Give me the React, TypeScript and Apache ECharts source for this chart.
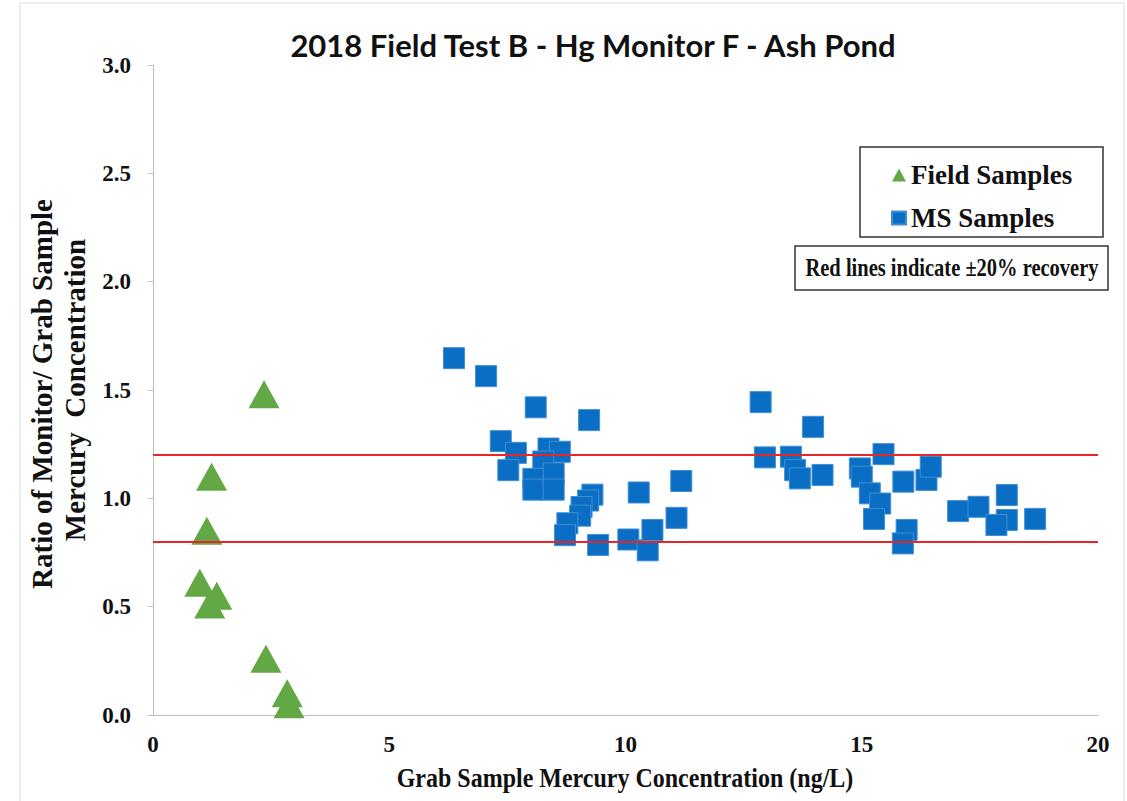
import React, { useEffect, useRef } from "react";
import * as echarts from "echarts";

const titleText = "2018 Field Test B - Hg Monitor F - Ash Pond";
const xTitle = "Grab Sample Mercury Concentration (ng/L)";
const yTitleLine1 = "Ratio of Monitor/ Grab Sample";
const yTitleLine2 = "Mercury  Concentration";
const noteText = "Red lines indicate \u00b120% recovery";

const fieldX = [2.35, 1.24, 1.14, 0.99, 1.35, 1.2, 2.39, 2.84, 2.88];
const fieldY = [1.48, 1.1, 0.85, 0.61, 0.55, 0.51, 0.26, 0.1, 0.05];

const msX = [
  6.37, 7.05, 8.1, 9.23, 7.36, 7.68, 7.52, 8.37, 8.61, 8.26, 8.05, 8.05, 8.48, 8.48,
  9.3, 9.21, 9.07, 9.04, 8.77, 8.72, 9.42, 10.28, 10.06, 10.47, 10.57, 11.08, 11.18,
  12.86, 13.97, 12.95, 13.5, 13.59, 13.69, 14.17, 14.96, 15.0, 15.46, 15.17, 15.39,
  15.26, 15.88, 16.37, 16.46, 15.95, 15.87, 17.04, 17.47, 18.07, 18.07, 17.85, 18.67,
];
const msY = [
  1.647, 1.564, 1.42, 1.361, 1.264, 1.21, 1.13, 1.23, 1.215, 1.17, 1.09, 1.04, 1.115, 1.04,
  1.017, 0.99, 0.96, 0.92, 0.885, 0.83, 0.785, 1.027, 0.81, 0.76, 0.854, 0.91, 1.08,
  1.444, 1.33, 1.189, 1.192, 1.13, 1.092, 1.108, 1.138, 1.1, 1.204, 1.023, 0.976,
  0.905, 1.077, 1.085, 1.146, 0.854, 0.792, 0.941, 0.961, 1.015, 0.9, 0.877, 0.905,
];

const recoveryLimits = [1.2, 0.8];
const xTicks = { min: 0, max: 20, interval: 5 };
const yTicks = { min: 0, max: 3, interval: 0.5 };

const GREEN = "#62A844";
const BLUE = "#0A6EC4";
const SERIF = "'Liberation Serif', 'Times New Roman', serif";

export default function App() {
  const ref = useRef<HTMLDivElement>(null);
  useEffect(() => {
    document.body.style.margin = "0";
    const chart = echarts.init(ref.current!, undefined, { renderer: "svg" });
    const fieldData = fieldX.map((x, i) => [x, fieldY[i]]);
    const msData = msX.map((x, i) => [x, msY[i]]);
    chart.setOption({
      animation: false,
      backgroundColor: "#ffffff",
      title: {
        text: titleText,
        left: 588,
        top: 24,
        textAlign: "center",
        textStyle: { fontFamily: "Lato", fontWeight: "bold", fontSize: 31, color: "#111" },
      },
      grid: { left: 153, top: 65, right: 29, bottom: 86 },
      legend: {
        left: 886,
        top: 155,
        orient: "vertical",
        itemGap: 13,
        itemWidth: 14,
        itemHeight: 13,
        textStyle: { fontFamily: SERIF, fontWeight: "bold", fontSize: 27, color: "#111", lineHeight: 30 },
        data: [
          { name: "Field Samples", icon: "triangle" },
          { name: "MS Samples", icon: "rect" },
        ],
      },
      xAxis: {
        type: "value",
        min: xTicks.min,
        max: xTicks.max,
        interval: xTicks.interval,
        splitLine: { show: false },
        axisLine: { show: true, lineStyle: { color: "#bfbfbf", width: 1 } },
        axisTick: { show: false },
        axisLabel: { margin: 18, fontFamily: SERIF, fontWeight: "bold", fontSize: 23, color: "#111" },
      },
      yAxis: {
        type: "value",
        min: yTicks.min,
        max: yTicks.max,
        interval: yTicks.interval,
        splitLine: { show: false },
        axisLine: { show: true, lineStyle: { color: "#bfbfbf", width: 1 } },
        axisTick: { show: true, length: 5, lineStyle: { color: "#bfbfbf" } },
        axisLabel: {
          margin: 22,
          fontFamily: SERIF,
          fontWeight: "bold",
          fontSize: 23,
          color: "#111",
          formatter: (v: number) => v.toFixed(1),
        },
      },
      series: [
        {
          name: "Field Samples",
          type: "scatter",
          symbol: "triangle",
          symbolSize: [31, 28],
          itemStyle: { color: GREEN, opacity: 1 },
          data: fieldData,
          z: 3,
        },
        {
          name: "MS Samples",
          type: "scatter",
          symbol: "rect",
          symbolSize: 21,
          itemStyle: { color: BLUE, borderColor: "#3f8fd2", borderWidth: 1, opacity: 1 },
          data: msData,
          z: 3,
        },
        {
          name: "limits",
          type: "line",
          data: [],
          z: 10,
          markLine: {
            silent: true,
            symbol: "none",
            label: { show: false },
            lineStyle: { color: "#e8262a", width: 2, type: "solid" },
            data: recoveryLimits.map((v) => ({ yAxis: v })),
          },
        },
      ],
      graphic: [
        {
          type: "rect",
          shape: { x: 20, y: 3, width: 1104, height: 820 },
          style: { fill: "none", stroke: "#d9d9d9", lineWidth: 1 },
          silent: true,
        },
        {
          type: "rect",
          shape: { x: 860, y: 147, width: 243, height: 90 },
          style: { fill: "none", stroke: "#333", lineWidth: 1.5 },
          silent: true,
        },
        {
          type: "rect",
          shape: { x: 795, y: 246, width: 313, height: 44 },
          style: { fill: "#fff", stroke: "#333", lineWidth: 1.5 },
          silent: true,
        },
        {
          type: "text",
          x: 952,
          y: 268,
          scaleY: 1.2,
          style: {
            text: noteText,
            fontFamily: SERIF,
            fontWeight: "bold",
            fontSize: 20.5,
            fill: "#111",
            textAlign: "center",
            textVerticalAlign: "middle",
          },
        },
        {
          type: "text",
          x: 625,
          y: 778,
          scaleY: 1.1,
          style: {
            text: xTitle,
            fontFamily: SERIF,
            fontWeight: "bold",
            fontSize: 24,
            fill: "#111",
            textAlign: "center",
            textVerticalAlign: "middle",
          },
        },
        {
          type: "text",
          x: 42,
          y: 394,
          rotation: Math.PI / 2,
          style: {
            text: yTitleLine1,
            fontFamily: SERIF,
            fontWeight: "bold",
            fontSize: 29,
            fill: "#111",
            textAlign: "center",
            textVerticalAlign: "middle",
          },
        },
        {
          type: "text",
          x: 75,
          y: 390,
          rotation: Math.PI / 2,
          style: {
            text: yTitleLine2,
            fontFamily: SERIF,
            fontWeight: "bold",
            fontSize: 29,
            fill: "#111",
            textAlign: "center",
            textVerticalAlign: "middle",
          },
        },
      ],
    });
    return () => chart.dispose();
  }, []);
  return <div ref={ref} style={{ width: 1127, height: 801 }} />;
}
